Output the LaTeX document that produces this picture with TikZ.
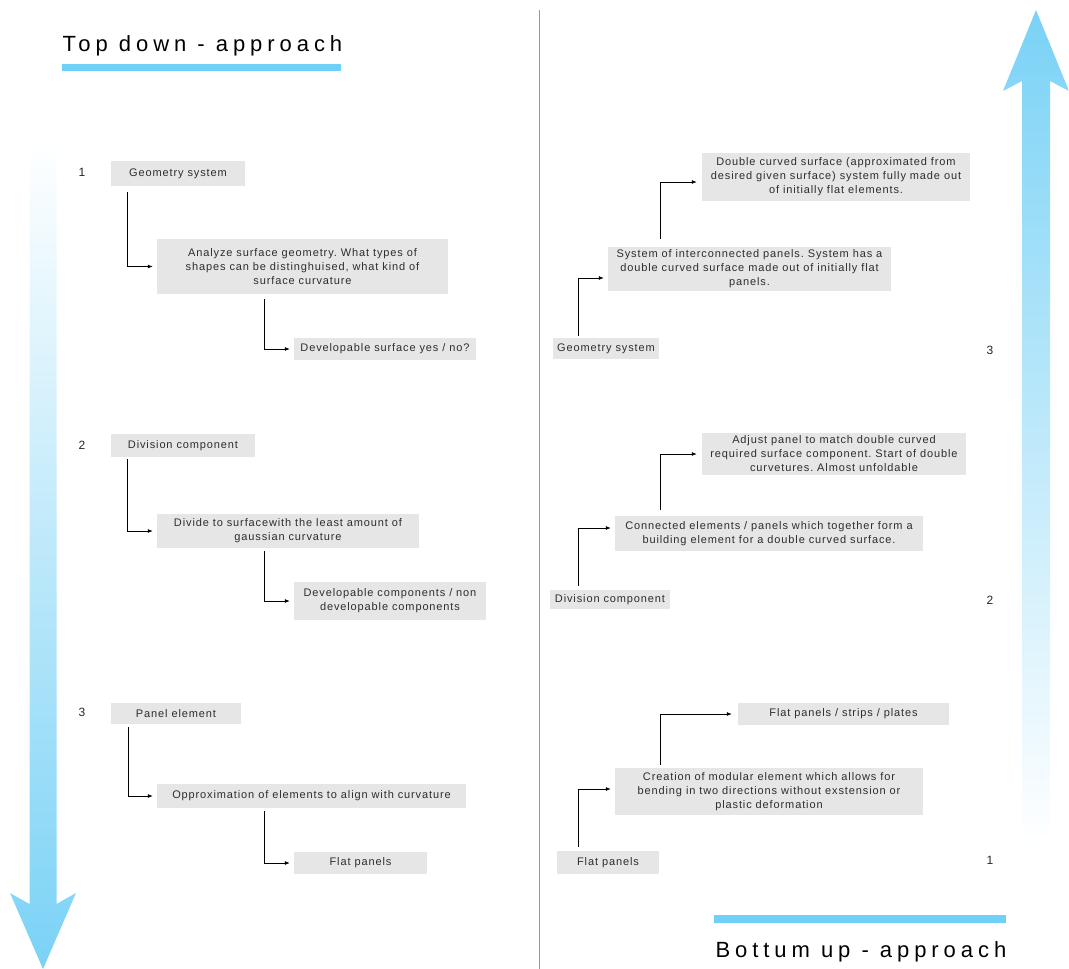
\documentclass[tikz,border=0pt]{standalone}
\usepackage{fontspec}
\setmainfont{Liberation Sans}
\newfontfamily\boxfont{Liberation Sans}[LetterSpace=8]
\newfontfamily\titlefont{Liberation Sans}[LetterSpace=22.5]
\usetikzlibrary{arrows.meta,calc}
\definecolor{barblue}{RGB}{112,208,245}
\definecolor{arrowblue}{RGB}{122,210,246}
\definecolor{boxgray}{RGB}{230,230,230}
\definecolor{txtgray}{RGB}{45,45,45}
\frenchspacing

\begin{document}
\begin{tikzpicture}[x=1pt,y=-1pt,
		stepbox/.style={fill=boxgray, inner sep=0pt, align=center, text=txtgray,
				font=\boxfont\fontsize{11}{14}\selectfont},
		sz/.style 2 args={minimum width=#1pt, minimum height=#2pt},
		conn/.style={-{Latex[length=5pt,width=4pt]}, line width=0.8pt, shorten >=4pt},
		num/.style={font=\fontsize{12}{14}\selectfont, text=black!85},
		headline/.style={font=\titlefont\fontsize{22}{26}\selectfont, anchor=base west},
	]
	\useasboundingbox (0,0) rectangle (1069,969);
	% big arrows
	\shade[top color=white, bottom color=arrowblue]
	(29.5,140) -- (56.5,140) -- (56.5,904) -- (76,893) -- (43,969) -- (10,893) -- (29.5,904) -- cycle;
	\shade[top color=arrowblue, bottom color=white]
	(1022,845) -- (1022,81) -- (1003,91) -- (1036,10) -- (1069,91) -- (1050,81) -- (1050,845) -- cycle;
	\draw[black!40, line width=0.8pt] (539,10) -- (539,969);
	% titles
	\node[headline] (td) at (59,51) {Top down - approach};
	\fill[barblue] (62,64) rectangle (341,71);
	\node[headline] (bu) at (712,957) {Bottum up - approach};
	\fill[barblue] (714,915) rectangle (1006,923);
	%
	% top down
	\node[num] (nl1) at (82,172) {1};
	\node[num] (nl2) at (82,445) {2};
	\node[num] (nl3) at (82,712) {3};
	\node[stepbox, sz={134}{25}] (geo) at (178,173.5) {Geometry system};
	\node[stepbox, sz={291}{55}] (ana) at (302.5,266.5) {Analyze surface geometry. What types of\\ shapes can be distinghuised, what kind of\\ surface curvature};
	\node[stepbox, sz={182}{22}] (dev) at (385,349) {Developable surface yes / no?};
	\node[stepbox, sz={144}{23}] (div) at (183,445.5) {Division component};
	\node[stepbox, sz={262}{34}] (gau) at (288,531) {Divide to surfacewith the least amount of\\ gaussian curvature};
	\node[stepbox, sz={192}{38}] (dcomp) at (390,601) {Developable components / non\\ developable components};
	\node[stepbox, sz={130}{21}] (pan) at (176,713.5) {Panel element};
	\node[stepbox, sz={309}{24}] (opp) at (311.5,796) {Opproximation of elements to align with curvature};
	\node[stepbox, sz={133}{22}] (flat) at (360.5,863) {Flat panels};
	%
	\draw[conn] ([xshift=17pt,yshift=-6pt]geo.south west) |- (ana);
	\draw[conn] ([xshift=108pt,yshift=-5pt]ana.south west) |- (dev);
	\draw[conn] ([xshift=17pt,yshift=-2pt]div.south west) |- (gau);
	\draw[conn] ([xshift=108pt,yshift=-3pt]gau.south west) |- (dcomp);
	\draw[conn] ([xshift=18pt,yshift=-3pt]pan.south west) |- (opp);
	\draw[conn] ([xshift=108pt,yshift=-3pt]opp.south west) |- (flat);
	%
	% bottom up
	\node[num] (nr3) at (990,350) {3};
	\node[num] (nr2) at (990,600) {2};
	\node[num] (nr1) at (990,860) {1};
	\node[stepbox, sz={268}{48}] (dcs) at (836,177) {Double curved surface (approximated from\\ desired given surface) system fully made out\\ of initially flat elements.};
	\node[stepbox, sz={283}{44}] (sip) at (749.5,269) {System of interconnected panels. System has a\\ double curved surface made out of initially flat\\ panels.};
	\node[stepbox, sz={106}{21}] (geor) at (606,348.5) {Geometry system};
	\node[stepbox, sz={264}{42}] (adj) at (834,454) {Adjust panel to match double curved\\ required surface component. Start of double\\ curvetures. Almost unfoldable};
	\node[stepbox, sz={308}{35}] (con) at (769,533.5) {Connected elements / panels which together form a\\ building element for a double curved surface.};
	\node[stepbox, sz={120}{19}] (divr) at (610,599.5) {Division component};
	\node[stepbox, sz={211}{22}] (fsp) at (843.5,714) {Flat panels / strips / plates};
	\node[stepbox, sz={308}{47}] (cme) at (769,791.5) {Creation of modular element which allows for\\ bending in two directions without exstension or\\ plastic deformation};
	\node[stepbox, sz={102}{23}] (flatr) at (608,862.5) {Flat panels};
	%
	\draw[conn] ([xshift=26pt,yshift=2pt]geor.north west) |- ([yshift=-9pt]sip.west);
	\draw[conn, shorten >=5pt] ([xshift=53pt,yshift=8pt]sip.north west) |- ([yshift=-5pt]dcs.west);
	\draw[conn] ([xshift=29pt,yshift=4pt]divr.north west) |- ([yshift=5.5pt]con.west);
	\draw[conn, shorten >=5pt] ([xshift=46pt,yshift=6pt]con.north west) |- (adj);
	\draw[conn] ([xshift=22pt,yshift=4pt]flatr.north west) |- ([yshift=2.5pt]cme.west);
	\draw[conn, shorten >=6pt] ([xshift=46pt,yshift=3pt]cme.north west) |- (fsp);
\end{tikzpicture}
\end{document}
